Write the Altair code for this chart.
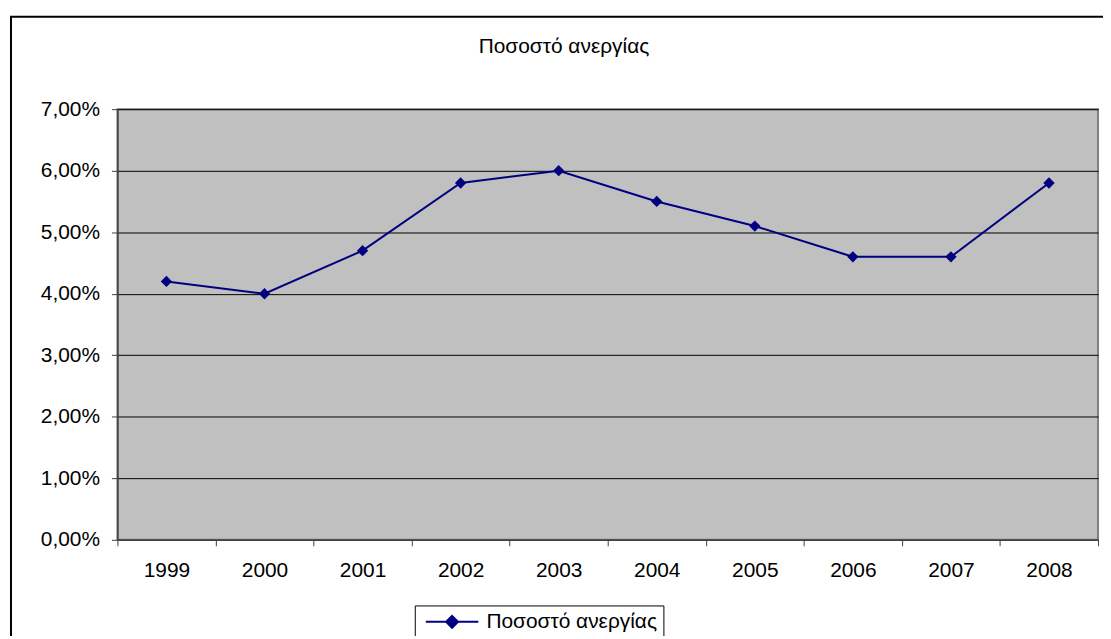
import altair as alt
import pandas as pd

years = ["1999", "2000", "2001", "2002", "2003", "2004", "2005", "2006", "2007", "2008"]
rates = [0.042, 0.040, 0.047, 0.058, 0.060, 0.055, 0.051, 0.046, 0.046, 0.058]
series_name = "Ποσοστό ανεργίας"
chart_title = "Ποσοστό ανεργίας"
y_ticks = [0.0, 0.01, 0.02, 0.03, 0.04, 0.05, 0.06, 0.07]

df = pd.DataFrame({"year": years, "rate": rates, "series": [series_name] * len(years)})

W, H = 986, 433
FONT = "Liberation Sans"
FS = 21
NAVY = "#000080"

x_enc = alt.X(
    "year:O",
    sort=years,
    scale=alt.Scale(type="band", paddingInner=0, paddingOuter=0),
    bandPosition=0.5,
    axis=alt.Axis(
        title=None, labelAngle=0, tickBand="extent", tickSize=6,
        tickColor="#404040", domainColor="#404040", domainWidth=1.5,
        labelPadding=14, labelFontSize=FS, labelFont=FONT, labelColor="black",
        grid=False,
    ),
)
y_enc = alt.Y(
    "rate:Q",
    scale=alt.Scale(domain=[0, 0.07], nice=False, zero=True),
    axis=alt.Axis(
        title=None, values=y_ticks,
        labelExpr="replace(format(datum.value, '.2%'), '.', ',')",
        grid=True, gridColor="black", gridWidth=1, tickSize=6,
        tickColor="#404040", domainColor="#404040", domainWidth=1.5,
        labelPadding=12, labelFontSize=FS, labelFont=FONT, labelColor="black",
    ),
)

base = alt.Chart(df)

line = base.mark_line(strokeWidth=2).encode(
    x=x_enc,
    y=y_enc,
    color=alt.Color(
        "series:N",
        scale=alt.Scale(range=[NAVY]),
        legend=alt.Legend(
            title=None, orient="none", legendX=299, legendY=499,
            strokeColor="black", padding=6,
            symbolType="M-4.4,0H4.4M0,-1L1,0L0,1L-1,0Z", symbolSize=144,
            symbolStrokeWidth=2, symbolFillColor=NAVY, symbolStrokeColor=NAVY,
            labelFont=FONT, labelFontSize=FS, labelColor="black", labelLimit=500,
            labelOffset=24, symbolOffset=21,
        ),
    ),
)

points = base.mark_point(shape="diamond", filled=True, size=130, opacity=1, color=NAVY).encode(
    x=x_enc, y=y_enc
)

border = alt.Chart(pd.DataFrame({"a": [0]})).mark_rect(
    fill=None, stroke="black", strokeWidth=2
).encode(
    x=alt.value(-107), x2=alt.value(1200), y=alt.value(-93), y2=alt.value(700)
)

chart = alt.layer(border, line, points).properties(
    width=W, height=H,
    title=alt.TitleParams(chart_title, font=FONT, fontSize=FS, fontWeight="normal",
                          color="black", anchor="middle", frame="group", dx=-44, offset=-42),
    padding={"left": 110, "top": 100, "right": 5, "bottom": 95},
    autosize=alt.AutoSizeParams(type="none"),
    background="white",
).configure_view(
    fill="#C0C0C0", stroke="#808080", strokeWidth=2
)

chart.save("out.html", embed_options={"renderer": "svg", "actions": False})
